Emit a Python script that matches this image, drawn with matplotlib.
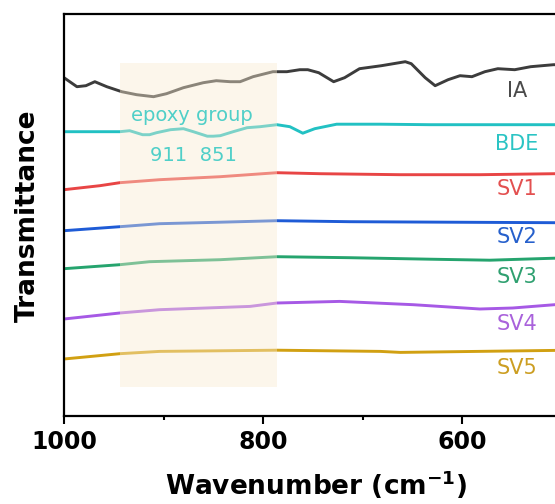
import matplotlib
matplotlib.use("Agg")
import matplotlib.pyplot as plt
from matplotlib.ticker import MultipleLocator, NullLocator

# wavenumber (cm-1) and transmittance (a.u., curves stacked with offsets)
ia_wn = [1000, 987, 978, 969, 957, 942, 927, 910, 897, 880, 860, 847, 833, 823, 810,
         790, 776, 763, 755, 744, 729, 718, 703, 681, 657, 651, 637, 627, 614, 602,
         590, 577, 564, 547, 531, 508, 495]
ia_t = [338, 329, 330, 334, 329, 324, 321, 319, 322, 328, 333, 335, 334, 334, 339,
        344, 344, 346, 346, 343, 334, 338, 347, 350, 354, 352, 338, 330, 336, 340,
        339, 344, 347, 346, 349, 351, 351]

bde_wn = [1000, 944, 934, 921, 914, 907, 893, 880, 870, 856, 850, 843, 830, 816, 803,
          786, 773, 760, 748, 726, 682, 632, 582, 509, 495]
bde_t = [284, 284, 285, 281, 281, 283, 286, 287, 284, 279.5, 279.5, 280, 284, 288, 289,
         291, 289, 282.5, 287, 291.5, 291.5, 291, 291, 291, 291]

sv1_wn = [1000, 964, 944, 904, 843, 786, 743, 662, 582, 507, 495]
sv1_t = [226, 230, 233, 236, 239, 243, 242, 241, 241, 242, 242]

sv2_wn = [1000, 944, 904, 843, 786, 713, 612, 507, 495]
sv2_t = [185, 189, 192, 193.5, 195, 194, 193.5, 193, 193]

sv3_wn = [1000, 944, 914, 843, 786, 713, 632, 572, 507, 495]
sv3_t = [147, 151, 154, 156, 159, 158, 156.5, 155.5, 157.5, 157.5]

sv4_wn = [1000, 944, 904, 813, 786, 723, 649, 582, 549, 507, 495]
sv4_t = [96.7, 102.7, 106, 109.3, 112.7, 114.3, 111, 106.7, 107.7, 111, 111]

sv5_wn = [1000, 944, 904, 786, 682, 662, 507, 495]
sv5_t = [56.7, 62, 64.3, 65.5, 64.3, 63.3, 65.3, 65.3]

names = ["IA", "BDE", "SV1", "SV2", "SV3", "SV4", "SV5"]
label_y = [325, 271.5, 226.5, 178.5, 138.5, 92, 48]
line_colors = ["#3c3c3c", "#22c1c3", "#e84545", "#1e5bd6", "#25a46e", "#a659e5", "#d1a012"]
text_colors = ["#4a4a4a", "#2bc4c4", "#e35050", "#2660cc", "#2fa070", "#a962db", "#cc9e22"]

epoxy_band = (943.7, 785.9)
peaks = ["911", "851"]

# the plot runs off the right edge of the picture, like the cropped original
fig = plt.figure(figsize=(5.55, 5.04), dpi=100)
ax = fig.add_axes([64 / 555, 88.3 / 504, 517.4 / 555, 401.7 / 504])

curves = [(ia_wn, ia_t), (bde_wn, bde_t), (sv1_wn, sv1_t), (sv2_wn, sv2_t),
          (sv3_wn, sv3_t), (sv4_wn, sv4_t), (sv5_wn, sv5_t)]
for (wn, t), c in zip(curves, line_colors):
    ax.plot(wn, t, color=c, lw=2.1, zorder=2, solid_capstyle="round")

for name, y, c in zip(names, label_y, text_colors):
    ax.text(545, y, name, color=c, fontsize=15, ha="center", va="center", zorder=5)

# shaded epoxy region sits over the curves
ax.axvspan(epoxy_band[0], epoxy_band[1], ymin=0.072, ymax=0.878,
           color="#faebd0", alpha=0.42, lw=0, zorder=3)
ax.text(871, 300.3, "epoxy group", color="#4fcfc8", fontsize=14,
        ha="center", va="center", zorder=5)
ax.text(870, 260.5, "  ".join(peaks), color="#4fcfc8", fontsize=14,
        ha="center", va="center", zorder=5)

ax.set_xlim(1000, 480)
ax.set_ylim(0, 401.7)
ax.xaxis.set_major_locator(MultipleLocator(200))
ax.xaxis.set_minor_locator(MultipleLocator(100))
ax.yaxis.set_major_locator(NullLocator())
ax.tick_params(axis="x", which="major", length=5.5, width=1.5, pad=4.5,
               labelsize=17)
ax.tick_params(axis="x", which="minor", length=3, width=1.5)
for lab in ax.get_xticklabels():
    lab.set_fontweight("bold")
for s in ["left", "bottom", "top"]:
    ax.spines[s].set_linewidth(1.6)
ax.spines["right"].set_visible(False)

ax.set_xlabel(r"Wavenumber (cm$^{\mathbf{-1}}$)", fontsize=19, fontweight="bold",
              va="top")
ax.xaxis.set_label_coords((316 - 64) / 517.4, -0.132)
ax.set_ylabel("Transmittance", fontsize=19, fontweight="bold", va="center")
ax.yaxis.set_label_coords((28 - 64) / 517.4, 0.497)

fig.savefig("out.png", dpi=100)
